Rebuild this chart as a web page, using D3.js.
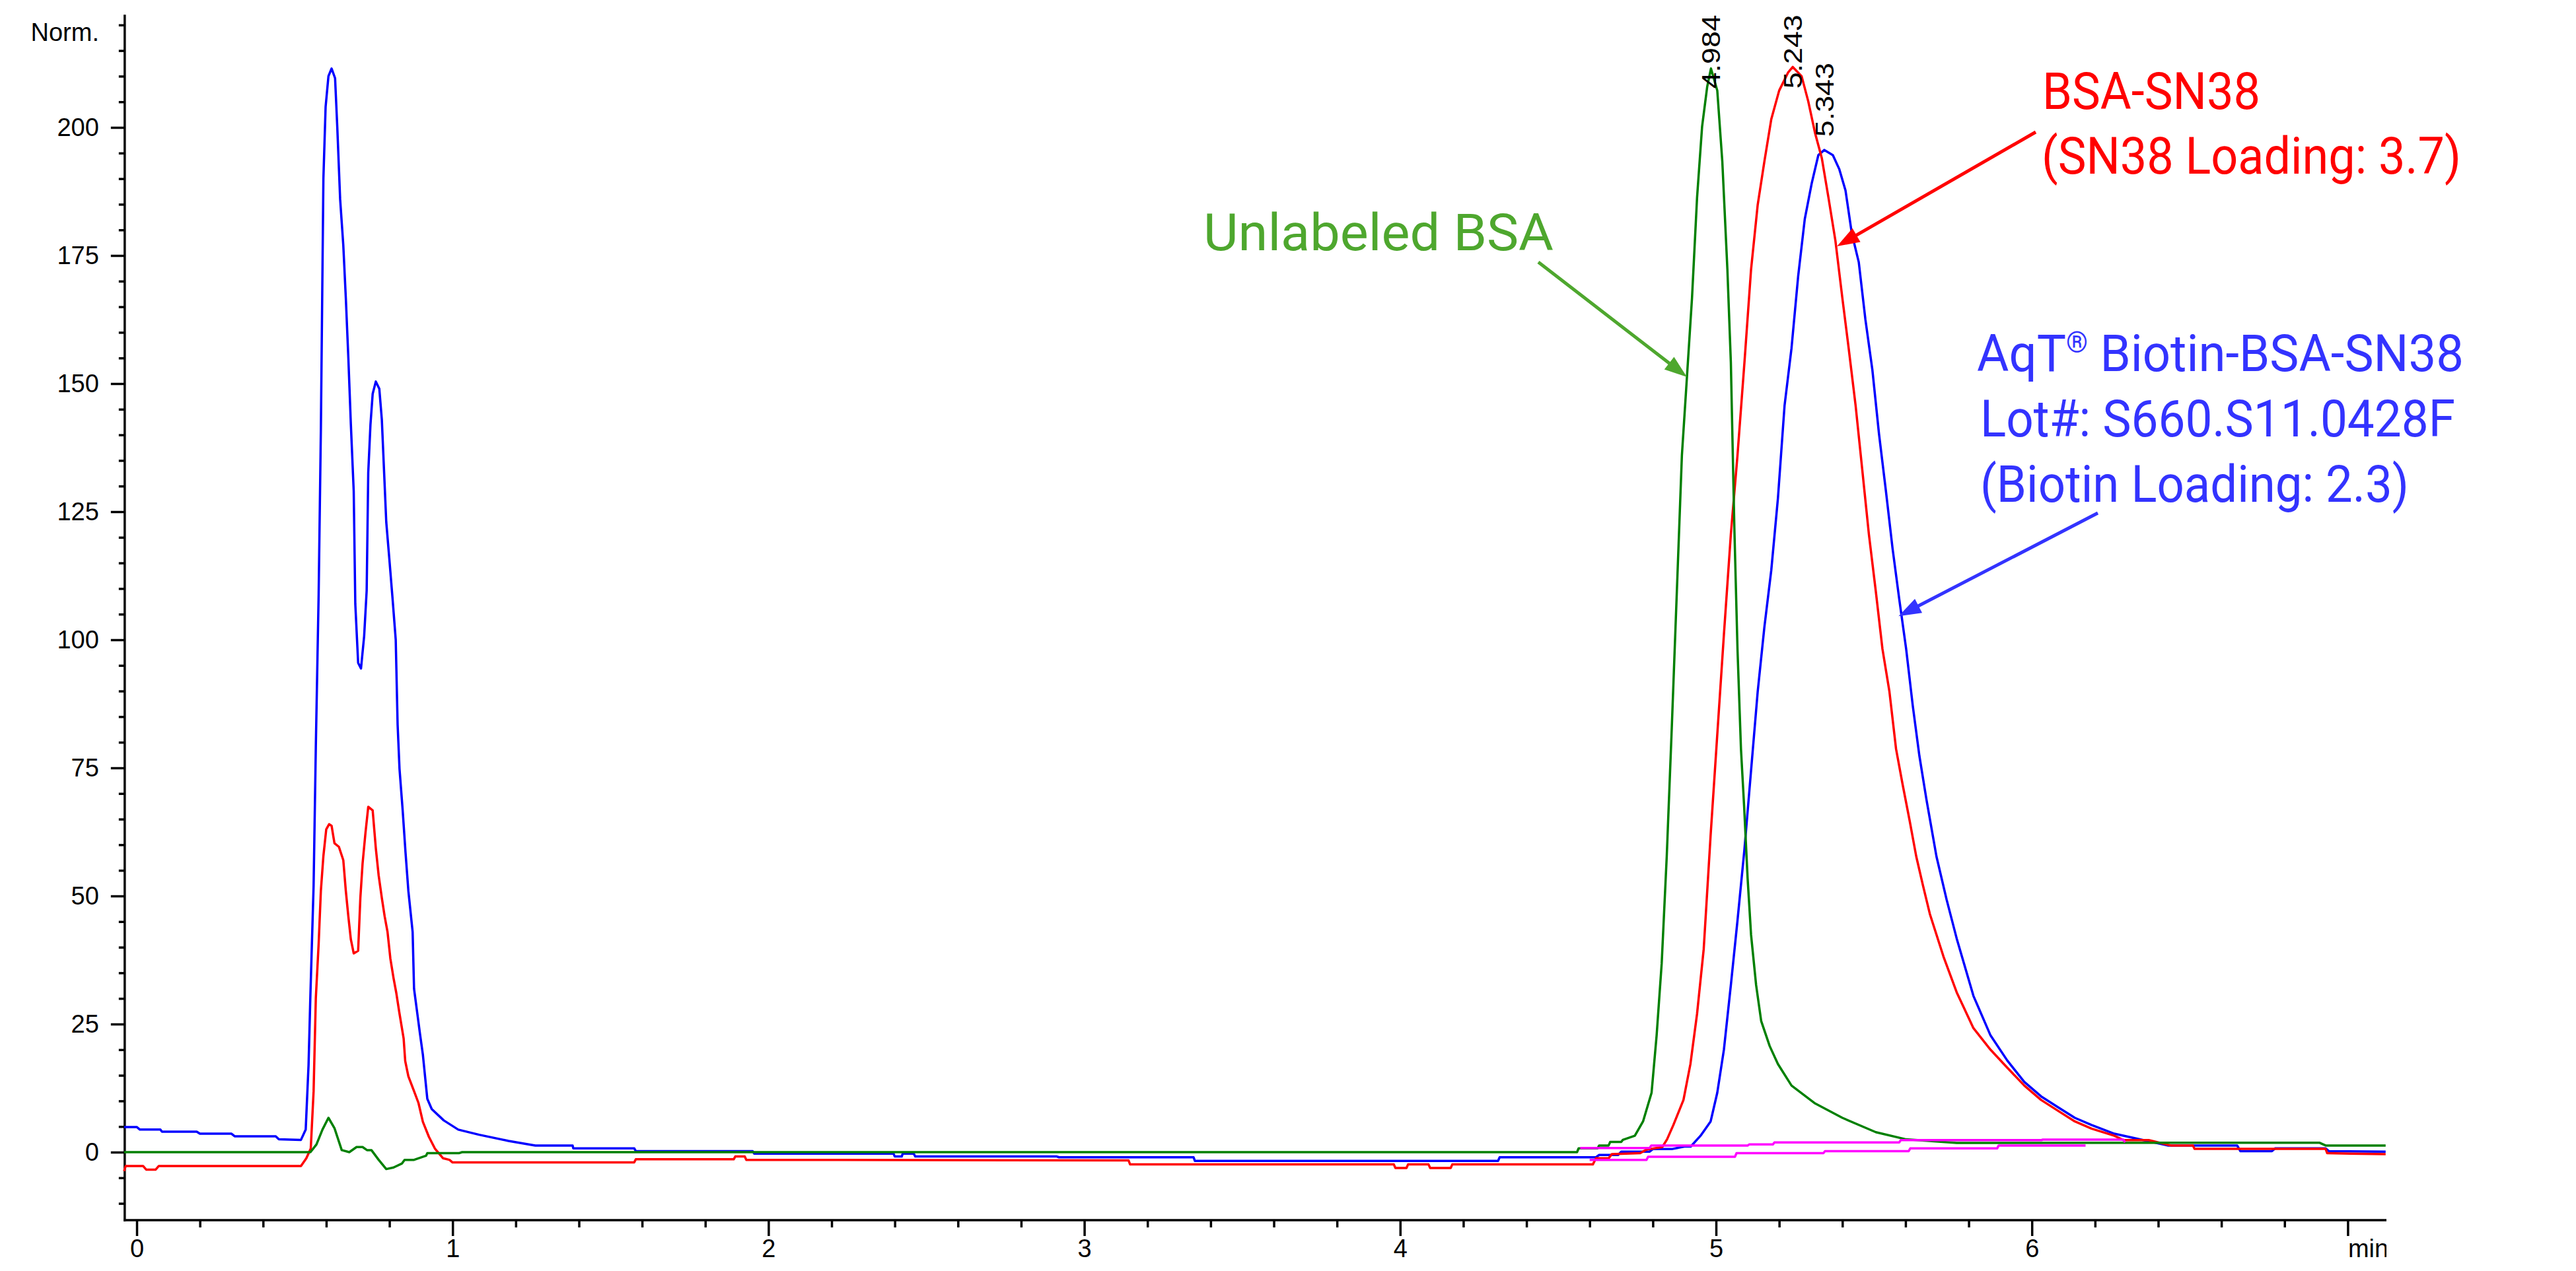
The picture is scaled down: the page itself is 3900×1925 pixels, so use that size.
<!DOCTYPE html>
<html>
<head>
<meta charset="utf-8">
<script src="https://cdn.jsdelivr.net/npm/d3@7"></script>
<style>
  html, body { margin: 0; padding: 0; background: #fff; }
  svg { display: block; }
</style>
</head>
<body>
<script>
// ---------------- DATA ----------------
const timeTicks = [0, 1, 2, 3, 4, 5, 6, 7];
const timeTickLabels = ["0", "1", "2", "3", "4", "5", "6", "min"];
const normTicks = [0, 25, 50, 75, 100, 125, 150, 175, 200];
const normTickLabels = ["0", "25", "50", "75", "100", "125", "150", "175", "200"];
const yAxisTitle = "Norm.";

// [time (min), Norm.]
const blueTrace = [[-0.04,4.9],[0.0,4.9],[0.01,4.4],[0.075,4.4],[0.08,4.0],[0.19,4.0],[0.2,3.6],[0.3,3.6],[0.31,3.1],[0.44,3.1],[0.45,2.5],[0.52,2.4],[0.535,4.4],[0.544,17],[0.55,31],[0.56,52],[0.567,79],[0.576,109],[0.583,141],[0.591,190],[0.598,204],[0.607,210],[0.617,211.5],[0.628,209.6],[0.635,200],[0.644,186],[0.654,177],[0.662,166.7],[0.67,155],[0.678,142],[0.687,129],[0.692,107],[0.701,95.5],[0.71,94.4],[0.72,100.7],[0.728,109.6],[0.733,132.6],[0.74,142],[0.747,148],[0.757,150.4],[0.768,149],[0.776,143],[0.783,133],[0.79,123],[0.8,115.6],[0.81,108],[0.82,100],[0.826,83.4],[0.832,74.8],[0.842,66.7],[0.851,58.5],[0.86,51],[0.8735,43],[0.878,31.9],[0.8876,27.4],[0.897,23],[0.906,19],[0.92,10.4],[0.934,8.4],[0.972,6.2],[1.018,4.4],[1.084,3.4],[1.177,2.2],[1.262,1.3],[1.38,1.3],[1.382,0.75],[1.575,0.75],[1.58,0.2],[1.95,0.2],[1.955,-0.3],[2.396,-0.3],[2.4,-0.85],[2.422,-0.85],[2.425,-0.3],[2.46,-0.3],[2.465,-0.85],[2.913,-0.85],[2.92,-1.0],[3.346,-1.0],[3.35,-1.7],[4.31,-1.7],[4.315,-1.0],[4.62,-1.0],[4.63,-0.55],[4.69,-0.55],[4.7,0.1],[4.79,0.1],[4.8,0.6],[4.86,0.6],[4.9,1.1],[4.92,1.1],[4.951,3.2],[4.983,6],[5.004,11.6],[5.025,20],[5.047,32.6],[5.068,45.2],[5.09,59.1],[5.111,74.5],[5.132,89.9],[5.153,102.4],[5.175,113.6],[5.196,127.6],[5.217,145.7],[5.239,156.9],[5.26,170.9],[5.281,182.1],[5.303,189.1],[5.324,194.6],[5.343,195.6],[5.37,194.6],[5.39,191.9],[5.41,187.7],[5.43,179.3],[5.452,173.7],[5.473,162.5],[5.495,152.7],[5.516,140.2],[5.538,129],[5.559,117.8],[5.58,108],[5.602,98.2],[5.623,87.1],[5.644,77.3],[5.666,68.9],[5.698,57.7],[5.73,49.3],[5.762,41.7],[5.815,30.5],[5.869,22.8],[5.922,17.9],[5.976,13.7],[6.029,10.9],[6.082,8.8],[6.136,6.7],[6.189,5.3],[6.261,3.6],[6.32,2.8],[6.43,1.3],[6.65,1.3],[6.66,0.2],[6.76,0.2],[6.77,0.73],[6.93,0.73],[6.94,0.2],[7.12,0.1]];

const redTrace = [[-0.04,-3.7],[-0.035,-2.7],[0.02,-2.7],[0.03,-3.4],[0.06,-3.4],[0.07,-2.7],[0.52,-2.7],[0.537,-1.2],[0.551,0.7],[0.56,11.9],[0.567,30],[0.576,40.7],[0.583,51],[0.591,57.8],[0.6,63],[0.609,64],[0.617,63.7],[0.626,60.3],[0.64,59.6],[0.654,57],[0.662,51],[0.67,46],[0.678,41.5],[0.687,38.8],[0.701,39.3],[0.708,49.6],[0.715,56.3],[0.724,62.2],[0.733,67.4],[0.747,66.7],[0.757,59.3],[0.766,54],[0.776,49.6],[0.785,46],[0.794,43],[0.803,37.8],[0.813,34],[0.822,31],[0.831,27.4],[0.845,22.2],[0.85,17.8],[0.86,14.8],[0.878,11.9],[0.892,9.6],[0.906,5.9],[0.925,3],[0.944,0.7],[0.97,-1.2],[0.99,-1.5],[1.0,-2.0],[1.575,-2.0],[1.58,-1.4],[1.89,-1.4],[1.895,-0.85],[1.925,-0.85],[1.93,-1.5],[3.14,-1.6],[3.145,-2.4],[3.98,-2.4],[3.985,-3.1],[4.02,-3.1],[4.025,-2.4],[4.09,-2.4],[4.095,-3.1],[4.16,-3.1],[4.165,-2.4],[4.61,-2.4],[4.62,-1.2],[4.66,-1.2],[4.67,-0.4],[4.76,-0.2],[4.78,0.5],[4.83,1.0],[4.845,2.5],[4.865,5.3],[4.897,10.2],[4.919,17.2],[4.94,27],[4.961,39.6],[4.983,61.9],[5.004,81.5],[5.025,101],[5.047,120.6],[5.068,136],[5.09,154.1],[5.111,172.3],[5.132,184.9],[5.153,193.3],[5.175,201.6],[5.2,207.2],[5.228,210.7],[5.243,211.8],[5.271,210],[5.292,205.1],[5.314,198.8],[5.335,194],[5.356,186.3],[5.378,177.9],[5.4,166.7],[5.42,156.9],[5.442,145.7],[5.463,133.2],[5.484,120.6],[5.506,109.4],[5.527,98.2],[5.549,89.9],[5.57,78.7],[5.591,71.7],[5.613,64.7],[5.634,57.7],[5.655,52.1],[5.677,46.5],[5.72,38.2],[5.762,31.2],[5.815,24.2],[5.869,20],[5.922,16.5],[5.976,13],[6.029,10.2],[6.082,8.1],[6.136,6],[6.189,4.6],[6.261,3.2],[6.29,2.35],[6.37,2.35],[6.44,1.3],[6.51,1.3],[6.515,0.64],[6.93,0.64],[6.935,-0.2],[7.12,-0.4]];

const greenTrace = [[-0.04,0],[0.55,0],[0.569,1.5],[0.588,4.4],[0.607,6.7],[0.626,4.7],[0.649,0.4],[0.673,0],[0.696,1],[0.715,1],[0.729,0.4],[0.743,0.4],[0.766,-1.5],[0.79,-3.3],[0.813,-3.0],[0.84,-2.2],[0.848,-1.5],[0.878,-1.5],[0.916,-0.7],[0.92,-0.2],[1.02,-0.2],[1.03,0],[4.56,0],[4.565,0.74],[4.625,0.74],[4.63,1.3],[4.66,1.3],[4.665,2.0],[4.7,2.0],[4.705,2.4],[4.743,3.2],[4.769,6],[4.796,11.6],[4.812,22.8],[4.828,36.8],[4.844,57.7],[4.86,82.9],[4.876,109.4],[4.892,136],[4.908,151.3],[4.924,166.7],[4.94,186.3],[4.956,200.2],[4.972,207.9],[4.984,211.5],[5.004,207.2],[5.02,193.3],[5.036,172.3],[5.047,154.1],[5.058,122],[5.068,98.2],[5.079,78.7],[5.089,67.5],[5.1,53.5],[5.111,42.4],[5.127,32.6],[5.143,25.6],[5.17,20.7],[5.196,17.2],[5.239,13],[5.314,9.5],[5.4,6.7],[5.506,3.9],[5.602,2.5],[5.762,1.8],[6.91,1.85],[6.93,1.3],[7.12,1.3]];

const magentaTraceUpper = [[4.57,0.8],[4.79,0.8],[4.795,1.3],[5.1,1.3],[5.105,1.5],[5.18,1.5],[5.185,1.9],[5.58,1.9],[5.585,2.35],[6.03,2.35],[6.035,2.45],[6.29,2.45],[6.295,1.9]];
const magentaTraceLower = [[4.6,-1.5],[4.78,-1.5],[4.785,-0.9],[5.06,-0.9],[5.065,-0.2],[5.34,-0.2],[5.345,0.2],[5.61,0.2],[5.615,0.73],[5.89,0.73],[5.895,1.3],[6.17,1.3]];

const peakTimes = [4.984, 5.243, 5.343];
const peakLabels = ["4.984", "5.243", "5.343"];

const annotationLines = {
  green: ["Unlabeled BSA"],
  red: ["BSA-SN38", "(SN38 Loading: 3.7)"],
  blue: ["AqT\u00AE Biotin-BSA-SN38", "Lot#: S660.S11.0428F", "(Biotin Loading: 2.3)"]
};
// arrow targets on the traces, in [time, Norm.]
const arrowTargets = { green: [4.908, 151.3], red: [5.383, 176.8], blue: [5.578, 104.6] };

// ---------------- LAYOUT ----------------
const W = 3900, H = 1925;
const clipRight = 3613;
const svg = d3.select("body").append("svg").attr("width", W).attr("height", H);
svg.append("rect").attr("width", W).attr("height", H).attr("fill", "#fff");
svg.append("defs").append("clipPath").attr("id", "imgclip")
  .append("rect").attr("x", 0).attr("y", 0).attr("width", clipRight).attr("height", H);

const root = svg.append("g").attr("clip-path", "url(#imgclip)");
const ann = svg.append("g");

const x = d3.scaleLinear().domain([0, 7]).range([207, 207 + 7 * 478.2]);
const y = d3.scaleLinear().domain([0, 200]).range([1745, 193]);
const axisX0 = x(-0.038), axisX1 = clipRight;
const axisYBottom = y(-13.27), axisYTop = y(222);

const tickFont = "'Liberation Sans', Arial, sans-serif";
const annFont = "Roboto, 'Liberation Sans', Arial, sans-serif";

// ----- axes -----
const xMajor = root.append("g").attr("transform", `translate(0,${axisYBottom})`)
  .call(d3.axisBottom(x).tickValues(timeTicks).tickSize(24).tickSizeOuter(0).tickPadding(5)
    .tickFormat((d, i) => timeTickLabels[i]));
const xMinor = root.append("g").attr("transform", `translate(0,${axisYBottom})`)
  .call(d3.axisBottom(x).tickValues(d3.range(0, 36).map(i => i * 0.2).filter(v => Math.abs(v - Math.round(v)) > 1e-6))
    .tickSize(11).tickSizeOuter(0).tickFormat(""));
const yMajor = root.append("g").attr("transform", `translate(${axisX0},0)`)
  .call(d3.axisLeft(y).tickValues(normTicks).tickSize(21).tickSizeOuter(0).tickPadding(18)
    .tickFormat((d, i) => normTickLabels[i]));
const yMinor = root.append("g").attr("transform", `translate(${axisX0},0)`)
  .call(d3.axisLeft(y).tickValues(d3.range(-10, 221, 5).filter(v => v % 25 !== 0))
    .tickSize(9).tickSizeOuter(0).tickFormat(""));

[xMajor, xMinor, yMajor, yMinor].forEach(g => {
  g.select(".domain").remove();
  g.selectAll(".tick line").attr("stroke", "#000").attr("stroke-width", 3.5);
  g.selectAll(".tick text").attr("fill", "#000").attr("font-family", tickFont).attr("font-size", 38);
});
xMajor.selectAll(".tick").filter(d => d === 7).select("text").attr("text-anchor", "start").attr("x", 0);

root.append("line").attr("x1", axisX0).attr("x2", axisX0).attr("y1", axisYTop).attr("y2", axisYBottom + 1.75)
  .attr("stroke", "#000").attr("stroke-width", 3.5);
root.append("line").attr("x1", axisX0 - 1.75).attr("x2", axisX1).attr("y1", axisYBottom).attr("y2", axisYBottom)
  .attr("stroke", "#000").attr("stroke-width", 3.5);

root.append("text").attr("x", 150).attr("y", 62).attr("text-anchor", "end")
  .attr("font-family", tickFont).attr("font-size", 38).attr("fill", "#000").text(yAxisTitle);

// ----- traces -----
const line = d3.line().x(d => x(d[0])).y(d => y(d[1]));
const traces = [
  { data: blueTrace, color: "#0000FF" },
  { data: redTrace, color: "#FF0000" },
  { data: greenTrace, color: "#008000" },
  { data: magentaTraceLower, color: "#FF00FF" },
  { data: magentaTraceUpper, color: "#FF00FF" }
];
root.append("g").selectAll("path").data(traces).join("path")
  .attr("d", d => line(d.data)).attr("fill", "none")
  .attr("stroke", d => d.color).attr("stroke-width", 3.5).attr("stroke-linejoin", "round");

// ----- peak labels -----
const peakSeries = [greenTrace, redTrace, blueTrace];
const peakLabelLen = 112;
peakTimes.forEach((t, i) => {
  const top = d3.max(peakSeries[i].filter(d => Math.abs(d[0] - t) < 0.15), d => d[1]);
  const yStart = Math.max(y(top) - 20, axisYTop + peakLabelLen);
  root.append("text")
    .attr("transform", `translate(${x(t)},${yStart}) rotate(-90)`)
    .attr("dy", "0.355em")
    .attr("font-family", tickFont).attr("font-size", 38).attr("fill", "#000")
    .attr("textLength", peakLabelLen).attr("lengthAdjust", "spacingAndGlyphs")
    .text(peakLabels[i]);
});

// ----- annotations -----
function arrow(x0, y0, tx, ty, color) {
  const dx = tx - x0, dy = ty - y0, L = Math.hypot(dx, dy);
  const ux = dx / L, uy = dy / L, head = 34, half = 12;
  const bx = tx - ux * head, by = ty - uy * head;
  ann.append("line").attr("x1", x0).attr("y1", y0).attr("x2", bx + ux * 2).attr("y2", by + uy * 2)
    .attr("stroke", color).attr("stroke-width", 5);
  ann.append("path")
    .attr("d", `M${tx},${ty}L${bx - uy * half},${by + ux * half}L${bx + uy * half},${by - ux * half}Z`)
    .attr("fill", color);
}
function textBlock(lines, xs, baselines, lengths, color) {
  lines.forEach((s, i) => {
    const t = ann.append("text").attr("x", xs[i]).attr("y", baselines[i])
      .attr("font-family", annFont).attr("font-size", 78).attr("fill", color)
      .attr("textLength", lengths[i]).attr("lengthAdjust", "spacingAndGlyphs");
    if (s.includes("\u00AE")) {
      const parts = s.split("\u00AE");
      t.append("tspan").text(parts[0]);
      t.append("tspan").attr("font-size", 44).attr("dy", -28).text("\u00AE");
      t.append("tspan").attr("dy", 28).text(parts[1]);
    } else {
      t.text(s);
    }
  });
}

const greenAnn = "#4EA72E", redAnn = "#FF0000", blueAnn = "#3333FF";
textBlock(annotationLines.green, [1822], [379], [530], greenAnn);
arrow(2329, 397, x(arrowTargets.green[0]), y(arrowTargets.green[1]), greenAnn);

textBlock(annotationLines.red, [3092, 3091], [165, 263], [330, 635], redAnn);
arrow(3082, 200, x(arrowTargets.red[0]), y(arrowTargets.red[1]), redAnn);

textBlock(annotationLines.blue, [2993, 2998, 2998], [562, 661, 760], [737, 719, 649], blueAnn);
arrow(3176, 777, x(arrowTargets.blue[0]), y(arrowTargets.blue[1]), blueAnn);
</script>
</body>
</html>
